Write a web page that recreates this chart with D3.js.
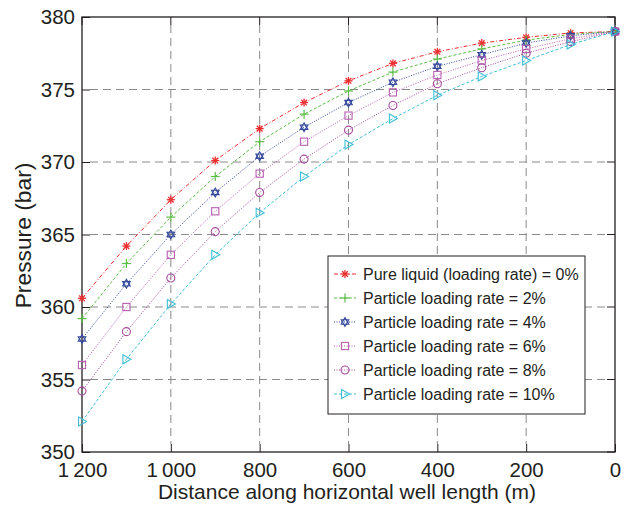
<!DOCTYPE html>
<html><head><meta charset="utf-8">
<script src="https://cdn.jsdelivr.net/npm/d3@7"></script>
<style>body{margin:0;background:#fff}svg{display:block}text{font-family:"Liberation Sans",Arial,sans-serif;fill:#231f20}</style>
</head><body><svg id="c" width="625" height="506"></svg>
<script>
const distances = [1200,1100,1000,900,800,700,600,500,400,300,200,100,0];
const seriesNames = ["Pure liquid (loading rate) = 0%","Particle loading rate = 2%","Particle loading rate = 4%","Particle loading rate = 6%","Particle loading rate = 8%","Particle loading rate = 10%"];
const p0  = [360.6,364.2,367.4,370.1,372.3,374.1,375.6,376.8,377.6,378.2,378.6,378.9,379.0];
const p2  = [359.2,363.0,366.2,369.0,371.4,373.3,374.9,376.2,377.1,377.8,378.4,378.8,379.0];
const p4  = [357.8,361.6,365.0,367.9,370.4,372.4,374.1,375.5,376.6,377.4,378.2,378.7,379.0];
const p6  = [356.0,360.0,363.6,366.6,369.2,371.4,373.2,374.8,376.0,377.0,377.8,378.5,379.0];
const p8  = [354.2,358.3,362.0,365.2,367.9,370.2,372.2,373.9,375.4,376.5,377.5,378.3,379.0];
const p10 = [352.1,356.4,360.2,363.6,366.5,369.0,371.2,373.0,374.6,375.9,377.0,378.1,379.0];
const xTicks = [1200,1000,800,600,400,200,0];
const xTickLabels = ["1\u2009200","1\u2009000","800","600","400","200","0"];
const yTicks = [350,355,360,365,370,375,380];

const colors = ["#ec2d2f","#5cbd47","#34489c","#b85eb0","#a3489b","#3fbfd6"];
const dashes = ["4,2,1,2","3,2","1,1.5","1,1.5","1,1.5","3,2"];
const markers = ["asterisk","plus","hexagram","square","circle","triangle"];
const allSeries = [p0,p2,p4,p6,p8,p10];

const svg = d3.select("#c");
const m = {l:82,r:615,t:17,b:452};
const x = d3.scaleLinear().domain([1200,0]).range([m.l,m.r]);
const y = d3.scaleLinear().domain([350,380]).range([m.b,m.t]);

// grid
const g = svg.append("g");
g.selectAll(".gx").data(xTicks.filter(d=>d!==1200 && d!==0)).join("line")
  .attr("x1",d=>x(d)).attr("x2",d=>x(d)).attr("y1",m.t+8).attr("y2",m.b-8)
  .attr("stroke","#8a8a8a").attr("stroke-width",1).attr("stroke-dasharray","8,5");
g.selectAll(".gy").data(yTicks.filter(d=>d!==350 && d!==380)).join("line")
  .attr("x1",m.l+8).attr("x2",m.r-8).attr("y1",d=>y(d)).attr("y2",d=>y(d))
  .attr("stroke","#8a8a8a").attr("stroke-width",1).attr("stroke-dasharray","8,5");

// axes
const ax = svg.append("g").attr("transform",`translate(0,${m.b})`)
  .call(d3.axisBottom(x).tickValues(xTicks).tickSize(-8).tickPadding(10).tickFormat((d,i)=>xTickLabels[i]));
const ay = svg.append("g").attr("transform",`translate(${m.l},0)`)
  .call(d3.axisLeft(y).tickValues(yTicks).tickSize(-8).tickPadding(7));
[ax,ay].forEach(a=>{a.select(".domain").remove();a.selectAll("line").attr("stroke","#231f20");
  a.selectAll("text").attr("font-size",20.5).attr("font-family","Liberation Sans, Arial, sans-serif").attr("fill","#231f20");});
// top and right ticks
svg.append("g").selectAll("line").data(xTicks).join("line")
  .attr("x1",d=>x(d)).attr("x2",d=>x(d)).attr("y1",m.t).attr("y2",m.t+8).attr("stroke","#231f20");
svg.append("g").selectAll("line").data(yTicks).join("line")
  .attr("x1",m.r-8).attr("x2",m.r).attr("y1",d=>y(d)).attr("y2",d=>y(d)).attr("stroke","#231f20");
svg.append("rect").attr("x",m.l).attr("y",m.t).attr("width",m.r-m.l).attr("height",m.b-m.t)
  .attr("fill","none").attr("stroke","#231f20").attr("stroke-width",1.3);

// labels
svg.append("text").attr("x",347).attr("y",498.5).attr("text-anchor","middle").attr("font-size",21)
  .text("Distance along horizontal well length (m)");
svg.append("text").attr("transform",`translate(30.5,235.5) rotate(-90)`).attr("text-anchor","middle").attr("font-size",22.8)
  .text("Pressure (bar)");

function drawMarker(sel, type, color){
  const s = 4;
  if(type==="asterisk"){
    for(let a=0;a<180;a+=45){const r=a*Math.PI/180;
      sel.append("line").attr("x1",-s*Math.cos(r)).attr("y1",-s*Math.sin(r)).attr("x2",s*Math.cos(r)).attr("y2",s*Math.sin(r)).attr("stroke",color).attr("stroke-width",1.3);}
  } else if(type==="plus"){
    sel.append("line").attr("x1",-s-0.5).attr("x2",s+0.5).attr("y1",0).attr("y2",0).attr("stroke",color).attr("stroke-width",1.2);
    sel.append("line").attr("y1",-s-0.5).attr("y2",s+0.5).attr("x1",0).attr("x2",0).attr("stroke",color).attr("stroke-width",1.2);
  } else if(type==="hexagram"){
    const tri=(rot)=>d3.range(3).map(i=>{const a=(rot+i*120)*Math.PI/180;return [s*1.1*Math.cos(a),s*1.1*Math.sin(a)];});
    sel.append("polygon").attr("points",tri(-90).join(" ")).attr("fill","none").attr("stroke",color).attr("stroke-width",1.1);
    sel.append("polygon").attr("points",tri(90).join(" ")).attr("fill","none").attr("stroke",color).attr("stroke-width",1.1);
  } else if(type==="square"){
    sel.append("rect").attr("x",-3.6).attr("y",-3.6).attr("width",7.2).attr("height",7.2).attr("fill","none").attr("stroke",color).attr("stroke-width",1.1);
  } else if(type==="circle"){
    sel.append("circle").attr("r",4).attr("fill","none").attr("stroke",color).attr("stroke-width",1.1);
  } else if(type==="triangle"){
    sel.append("polygon").attr("points","-3.5,-4.5 4.5,0 -3.5,4.5").attr("fill","none").attr("stroke",color).attr("stroke-width",1.1);
  }
}

const line = d3.line().x((d,i)=>x(distances[i])).y(d=>y(d));
allSeries.forEach((vals,k)=>{
  svg.append("path").datum(vals).attr("d",line).attr("fill","none").attr("stroke",colors[k])
    .attr("stroke-width",1).attr("stroke-dasharray",dashes[k]);
  vals.forEach((v,i)=>{
    const mg = svg.append("g").attr("transform",`translate(${x(distances[i])},${y(v)})`);
    drawMarker(mg, markers[k], colors[k]);
  });
});

// legend
const lg = svg.append("g");
lg.append("rect").attr("x",328).attr("y",256).attr("width",257).attr("height",158).attr("fill","#fff").attr("stroke","#231f20").attr("stroke-width",1);
seriesNames.forEach((n,k)=>{
  const yy = 274 + k*24;
  lg.append("line").attr("x1",334).attr("x2",356).attr("y1",yy).attr("y2",yy).attr("stroke",colors[k]).attr("stroke-dasharray",dashes[k]);
  const mg = lg.append("g").attr("transform",`translate(345,${yy})`);
  drawMarker(mg, markers[k], colors[k]);
  lg.append("text").attr("x",363).attr("y",yy+5.5).attr("font-size",16).text(n);
});
</script></body></html>
